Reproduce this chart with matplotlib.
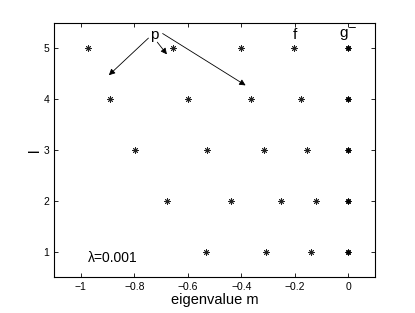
import numpy as np
import matplotlib
matplotlib.use("Agg")
import matplotlib.pyplot as plt

plt.rcParams['font.family'] = ['Liberation Sans', 'DejaVu Sans']

# eigenvalues m for each l
l_vals = [5, 4, 3, 2, 1]
m_l5 = [-0.972, -0.657, -0.402, -0.202, 0.0]
m_l4 = [-0.892, -0.600, -0.362, -0.177, 0.0]
m_l3 = [-0.797, -0.530, -0.315, -0.155, 0.0]
m_l2 = [-0.679, -0.437, -0.252, -0.122, 0.0]
m_l1 = [-0.533, -0.307, -0.139, 0.0]
rows = [m_l5, m_l4, m_l3, m_l2, m_l1]

fig = plt.figure(figsize=(4.15, 3.13), dpi=100)
ax = fig.add_axes([0.130, 0.115, 0.774, 0.812])

#plot the eigenvalues
for l, ms in zip(l_vals, rows):
    ax.plot(ms, [l]*len(ms), linestyle='none', marker=(8, 2, 0),
            color='#222222', markersize=4.5, markeredgewidth=0.6)
    # repeated eigenvalues at 0 look bolder
    ax.plot([0.0], [l], linestyle='none', marker='o', color='black', markersize=2.5)

#labels on the branches
ax.text(-0.725, 5.27, "p", fontsize=11, ha='center', va='center')
ax.text(-0.2, 5.27, "f", fontsize=11, ha='center', va='center')
ax.text(0.0, 5.27, "g$^{-}$", fontsize=11, ha='center', va='center')
ax.text(-0.975, 0.87, "λ=0.001", fontsize=10, ha='left', va='center')

#arrows from p
arrows = [((-0.747, 5.2), (-0.895, 4.47)),
          ((-0.714, 5.12), (-0.678, 4.88)),
          ((-0.694, 5.29), (-0.384, 4.27))]
for tail, head in arrows:
    ax.annotate("", xy=head, xytext=tail,
                arrowprops=dict(arrowstyle='-|>', color='black', lw=0.6,
                                mutation_scale=9, shrinkA=0, shrinkB=0))

ax.set_xlim(-1.1, 0.1)
ax.set_ylim(0.5, 5.5)
ax.set_xticks([-1, -0.8, -0.6, -0.4, -0.2, 0])
ax.set_xticklabels(["\u22121", "\u22120.8", "\u22120.6", "\u22120.4", "\u22120.2", "0"])
ax.set_yticks([1, 2, 3, 4, 5])
ax.tick_params(direction='in', top=True, right=True, labelsize=7.5, length=3, width=0.6)
for s in ax.spines.values():
    s.set_linewidth(0.8)

ax.set_xlabel("eigenvalue m", fontsize=10.5, labelpad=1)
ax.set_ylabel("l", fontsize=11)
ax.yaxis.set_label_coords(-0.06, 0.5)
ax.yaxis.label.set_horizontalalignment('center')
ax.yaxis.label.set_verticalalignment('center')

fig.savefig("out.png", dpi=100)
